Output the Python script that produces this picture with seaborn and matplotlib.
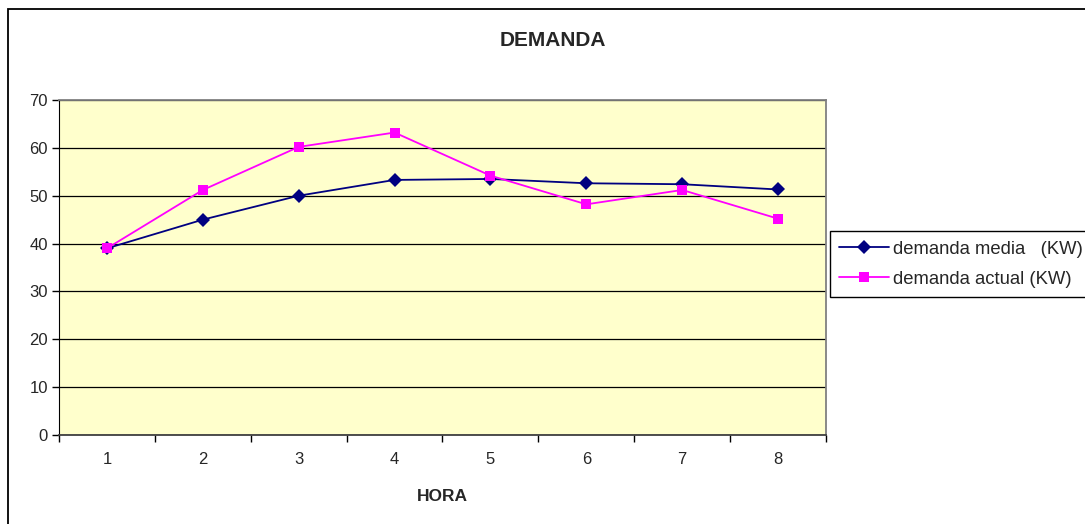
import pandas as pd
import seaborn as sns
import matplotlib.pyplot as plt
from matplotlib.patches import Rectangle

hora = [1, 2, 3, 4, 5, 6, 7, 8]
demanda_media = [39, 45, 50, 53.3, 53.5, 52.6, 52.4, 51.3]
demanda_actual = [39, 51.2, 60.2, 63.2, 54.2, 48.2, 51.2, 45.2]
series = ["demanda media   (KW)", "demanda actual (KW)"]

df = pd.DataFrame({
    "hora": hora * 2,
    "valor": demanda_media + demanda_actual,
    "serie": [series[0]] * len(hora) + [series[1]] * len(hora),
})

sns.set_style("white")
plt.rcParams['font.family'] = ['Liberation Sans', 'DejaVu Sans']

fig = plt.figure(figsize=(10.85, 5.24), dpi=100)
ax = fig.add_axes([59 / 1085, 89 / 524, 767 / 1085, 335 / 524])
ax.set_facecolor("#FFFFCC")

sns.lineplot(data=df, x="hora", y="valor", hue="serie", style="serie",
             palette={series[0]: "#000080", series[1]: "#FF00FF"},
             markers={series[0]: "D", series[1]: "s"}, dashes=False,
             markersize=7, linewidth=1.3, markeredgewidth=0, ax=ax)

ax.set_xlim(0.5, 8.5)
ax.set_ylim(0, 70)
ax.set_yticks(range(0, 71, 10))
ax.set_xticks(hora)
ax.set_xticks([h - 0.5 for h in hora] + [8.5], minor=True)
ax.tick_params(axis="x", which="major", length=0, labelsize=12, pad=12)
ax.tick_params(axis="x", which="minor", length=5, width=1, color="black", direction="out", bottom=True)
ax.tick_params(axis="y", length=5, width=1, color="black", direction="out", left=True, labelsize=12, pad=3)
ax.grid(axis="y", color="black", linewidth=0.9)
ax.set_axisbelow(True)

for s in ["top", "right"]:
    ax.spines[s].set_color("#808080")
    ax.spines[s].set_linewidth(1.3)
ax.spines["left"].set_color("black")
ax.spines["bottom"].set_color("#404040")
ax.spines["bottom"].set_linewidth(1.3)

ax.set_ylabel("")
ax.set_xlabel("HORA", fontsize=12.5, fontweight="bold", labelpad=16)
fig.text(553 / 1085, 1 - 41 / 524, "DEMANDA", fontsize=15, fontweight="bold",
         ha="center", va="center")

leg = ax.legend(loc="center left", bbox_to_anchor=(1.005, 0.51), fontsize=13.3,
                frameon=True, fancybox=False, edgecolor="black", framealpha=1,
                borderpad=0.5, handlelength=2.7, handletextpad=0.2, labelspacing=0.7,
                borderaxespad=0)
leg.get_frame().set_linewidth(1)

fig.patches.append(Rectangle((8 / 1085, -0.2), 1.2, 1.2 - 9 / 524, transform=fig.transFigure,
                             fill=False, edgecolor="black", linewidth=1.3))

fig.savefig("out.png", dpi=100)
